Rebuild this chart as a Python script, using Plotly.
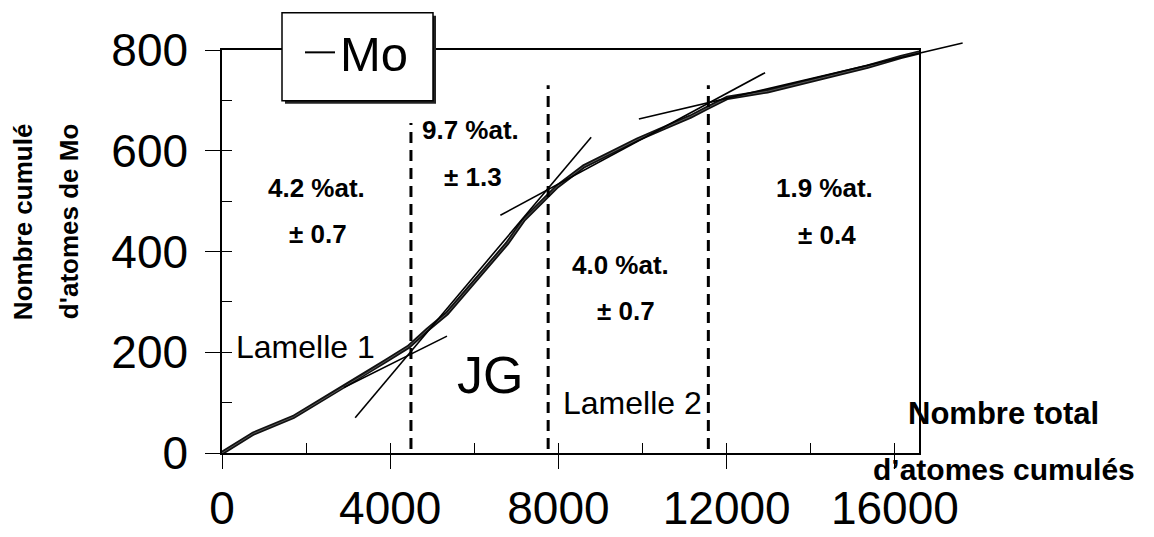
import plotly.graph_objects as go

# ---- data ----
cum_total = [0, 745, 1698, 2492, 3286, 3921, 4436, 4873, 5350, 5826, 6302, 6779, 7175, 7571,
             7730, 7968, 8603, 9238, 9873, 10587, 11143, 11540, 12016, 12968, 13762, 14555,
             15350, 16143, 16580]
cum_mo = [0, 38.6, 71.6, 111, 151, 184, 211, 244, 277, 323, 370, 416, 463, 496,
          509, 529, 569, 595, 622, 648, 668, 685, 705, 718, 734, 751, 767, 786, 795]

# tangent (linear-fit) segments: [x_start, x_end], [y_start, y_end]
fit_lamelle1_x = [2900, 5350]
fit_lamelle1_y = [130, 232]
fit_jg_x = [3167, 8778]
fit_jg_y = [70, 627]
fit_lamelle2_x = [6619, 12912]
fit_lamelle2_y = [472, 755]
fit_end_x = [9912, 17611]
fit_end_y = [663, 814]

# interface positions (dashed) and their top values
interface_x = [4493, 7755, 11564]
interface_top = [655, 730, 730]
interface_bottom = 8

x_tick_labels = ["0", "4000", "8000", "12000", "16000"]
x_tick_vals = [0, 4000, 8000, 12000, 16000]
y_tick_vals = [0, 200, 400, 600, 800]

conc_labels = ["4.2 %at.", "± 0.7", "9.7 %at.", "± 1.3", "4.0 %at.", "± 0.7", "1.9 %at.", "± 0.4"]
conc_x = [2235, 2283, 5897, 5968, 9487, 9606, 14314, 14386]
conc_y = [526, 434, 641, 548, 373, 282, 526, 433]

region_labels = ["Lamelle 1", "JG", "Lamelle 2"]
region_x = [1974, 6372, 9749]
region_y = [210, 154, 99]
region_sizes = [32, 52, 32]

X_MAX = 16580
Y_MAX = 800

FONT = "Liberation Sans, Arial, sans-serif"

# ---- layout geometry (pixels) ----
W, H = 1154, 537
ML, MR, MT, MB = 222, 100, 20, 84.3
paper_w = W - ML - MR
paper_h = H - MT - MB
plot_w = 697.3
plot_h = 402.7
xd1 = plot_w / paper_w
yd1 = plot_h / paper_h


def px_x(p):
    return (p - ML) / paper_w


def px_y(p):
    return (H - MB - p) / paper_h


fig = go.Figure()

# main curve (thick dark line with lighter core)
fig.add_trace(go.Scatter(x=cum_total, y=cum_mo, mode="lines",
                         line=dict(color="#111111", width=4.2), showlegend=False,
                         hoverinfo="skip"))
fig.add_trace(go.Scatter(x=cum_total, y=cum_mo, mode="lines",
                         line=dict(color="#555555", width=1.0), showlegend=False,
                         hoverinfo="skip"))

# tangent lines on an extended (unclipped) subplot with identical scale
for fx, fy in [(fit_lamelle1_x, fit_lamelle1_y), (fit_jg_x, fit_jg_y),
               (fit_lamelle2_x, fit_lamelle2_y), (fit_end_x, fit_end_y)]:
    fig.add_trace(go.Scatter(x=fx, y=fy, mode="lines", xaxis="x2", yaxis="y2",
                             line=dict(color="black", width=1.6), showlegend=False,
                             hoverinfo="skip"))

# dashed interface lines (on overlay axes carrying the inside ticks)
for ix, it in zip(interface_x, interface_top):
    fig.add_trace(go.Scatter(x=[ix, ix], y=[interface_bottom, it], mode="lines",
                             xaxis="x3", yaxis="y3",
                             line=dict(color="black", width=3, dash="11px,7px"),
                             showlegend=False, hoverinfo="skip"))

# legend entry
fig.add_trace(go.Scatter(x=[None], y=[None], mode="lines", name="Mo",
                         line=dict(color="black", width=2), showlegend=True))

annotations = []
for t, x, y in zip(conc_labels, conc_x, conc_y):
    annotations.append(dict(text="<b>%s</b>" % t, x=x, y=y, xref="x", yref="y",
                            xanchor="center", yanchor="middle",
                            showarrow=False, font=dict(family=FONT, size=26, color="black")))
for t, x, y, s in zip(region_labels, region_x, region_y, region_sizes):
    annotations.append(dict(text=t, x=x, y=y, xref="x", yref="y", showarrow=False,
                            xanchor="center", yanchor="middle",
                            font=dict(family=FONT, size=s, color="black")))

# axis titles
title_common = dict(xref="paper", yref="paper", showarrow=False,
                    xanchor="center", yanchor="middle")
annotations += [
    dict(text="<b>Nombre cumulé</b>", x=px_x(23), y=px_y(222), textangle=-90,
         font=dict(family=FONT, size=26, color="black"), **title_common),
    dict(text="<b>d'atomes de Mo</b>", x=px_x(69), y=px_y(222), textangle=-90,
         font=dict(family=FONT, size=26, color="black"), **title_common),
    dict(text="<b>Nombre total</b>", x=px_x(1003), y=px_y(413),
         font=dict(family=FONT, size=31, color="black"), **title_common),
    dict(text="<b>d’atomes cumulés</b>", x=px_x(1004), y=px_y(469),
         font=dict(family=FONT, size=30, color="black"), **title_common),
]

# legend frame with drop shadow
shapes = [
    dict(type="rect", xref="paper", yref="paper", layer="above",
         x0=px_x(285), x1=px_x(436), y0=px_y(103.7), y1=px_y(15.7),
         fillcolor="#222222", line=dict(width=0)),
    dict(type="rect", xref="paper", yref="paper", layer="above",
         x0=px_x(282), x1=px_x(433), y0=px_y(100.7), y1=px_y(12.7),
         fillcolor="white", line=dict(color="black", width=1.5)),
]

axis_common = dict(showgrid=False, zeroline=False)

fig.update_layout(
    width=W, height=H,
    margin=dict(l=ML, r=MR, t=MT, b=MB, pad=0, autoexpand=False),
    paper_bgcolor="white", plot_bgcolor="rgba(0,0,0,0)",
    font=dict(family=FONT, color="black"),
    showlegend=True,
    legend=dict(x=px_x(300), y=px_y(14),
                xanchor="left", yanchor="top",
                bgcolor="rgba(0,0,0,0)", borderwidth=0,
                font=dict(family=FONT, size=49, color="black"),
                itemwidth=30),
    xaxis=dict(domain=[0, xd1], range=[0, X_MAX], anchor="y",
               tickmode="array", tickvals=x_tick_vals, ticktext=x_tick_labels,
               ticks="outside", ticklen=14, tickwidth=1.3, tickcolor="black",
               showline=True, linecolor="black", linewidth=1.5, mirror=True,
               tickfont=dict(family=FONT, size=46, color="black"),
               ticklabelstandoff=0, **axis_common),
    yaxis=dict(domain=[0, yd1], range=[0, Y_MAX], anchor="x",
               tickmode="array", tickvals=y_tick_vals,
               ticks="outside", ticklen=15, tickwidth=1.3, tickcolor="black",
               showline=True, linecolor="black", linewidth=1.5, mirror=True,
               tickfont=dict(family=FONT, size=46, color="black"),
               ticklabelstandoff=8, **axis_common),
    xaxis2=dict(domain=[0, 1], range=[0, X_MAX / xd1], anchor="y2", visible=False,
                **axis_common),
    yaxis2=dict(domain=[0, 1], range=[0, Y_MAX / yd1], anchor="x2", visible=False,
                **axis_common),
    xaxis3=dict(overlaying="x", range=[0, X_MAX], anchor="y3", side="bottom",
                tickmode="linear", tick0=0, dtick=2000, ticks="inside", ticklen=10,
                tickwidth=1.3, tickcolor="black", showticklabels=False, showline=False,
                **axis_common),
    yaxis3=dict(overlaying="y", range=[0, Y_MAX], anchor="x3", side="left",
                tickmode="linear", tick0=0, dtick=100, ticks="inside", ticklen=10,
                tickwidth=1.3, tickcolor="black", showticklabels=False, showline=False,
                **axis_common),
    annotations=annotations,
    shapes=shapes,
)

fig.write_html("out.html", config={"displayModeBar": False},
               post_script="document.body.style.margin='0';document.body.style.overflow='hidden';")
